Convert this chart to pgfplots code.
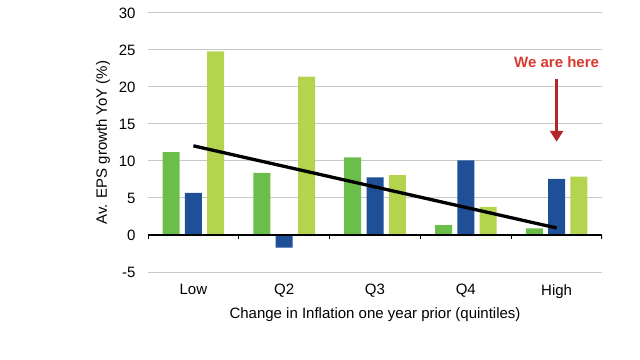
\documentclass[border=0pt]{standalone}
\usepackage{fontspec}
\setmainfont{Liberation Sans}
\usepackage{pgfplots}
\pgfplotsset{compat=1.18}
\usetikzlibrary{arrows.meta}
\definecolor{cA}{HTML}{6CBE4B}
\definecolor{cB}{HTML}{1F4F96}
\definecolor{cC}{HTML}{B4D44F}
\definecolor{gridc}{HTML}{C8C8C8}
\definecolor{redtxt}{HTML}{D93A2F}
\definecolor{arrowc}{HTML}{B3262A}
\newcommand{\fs}{\fontsize{15bp}{18bp}\selectfont}
\begin{document}
\begin{tikzpicture}
\begin{axis}[
  at={(148bp,88bp)}, anchor=south west,
  scale only axis, width=454bp, height=259bp,
  xmin=-0.5, xmax=4.5, ymin=-5, ymax=30,
  ytick={-5,0,...,30},
  xtick={0,...,4}, xticklabels={Low,Q2,Q3,Q4,High},
  major tick length=0pt,
  axis line style={draw=none},
  ymajorgrids, grid style={gridc, line width=1bp},
  ybar, bar width=17bp,
  /pgf/number format/assume math mode=true,
  ticklabel style={font=\fs},
  yticklabel style={xshift=-9bp},
  xticklabel style={yshift=-9bp},
  label style={font=\fs},
  xlabel={Change in Inflation one year prior (quintiles)},
  ylabel={Av. EPS growth YoY (\%)},
  xlabel style={at={(axis description cs:0.5,-0.166)}, anchor=center},
  ylabel style={at={(axis description cs:-0.099,0.5)}, anchor=center},
  legend style={draw=none, font=\fs, at={(axis description cs:0.25,-0.335)}, anchor=north west, legend columns=3,
    /tikz/every even column/.append style={column sep=12bp}},
  legend image code/.code={\fill (0bp,-7bp) rectangle (8bp,0bp);},
]
\addplot[fill=cA, draw=none, bar shift=-22.3bp] coordinates {(0,11.2) (1,8.4) (2,10.5) (3,1.35) (4,0.9)};
\addplot[fill=cB, draw=none, bar shift=0bp] coordinates {(0,5.7) (1,-1.7) (2,7.8) (3,10.1) (4,7.6)};
\addplot[fill=cC, draw=none, bar shift=22.3bp] coordinates {(0,24.8) (1,21.4) (2,8.1) (3,3.8) (4,7.9)};
\legend{US,UK,Europe}
\draw[black, line width=1.3bp] (axis cs:-0.5,0) -- (axis cs:4.5,0);
\pgfplotsinvokeforeach{-0.5,0.5,1.5,2.5,3.5,4.5}{
  \draw[black, line width=1.2bp] (axis cs:#1,0) -- (axis cs:#1,-0.6);
}
\addplot[sharp plot, black, line width=3.3bp, forget plot] coordinates {(0,12.05) (4,0.95)};
\draw[arrowc, line width=3bp, -{Triangle[width=13bp,length=11bp]}] (axis cs:4,21.1) -- (axis cs:4,12.6);
\node[redtxt, font=\fs\bfseries] at (axis cs:4,23.3) {We are here};
\end{axis}
\pgfresetboundingbox
\path[use as bounding box] (0,0) rectangle (640bp,360bp);
\end{tikzpicture}
\end{document}
